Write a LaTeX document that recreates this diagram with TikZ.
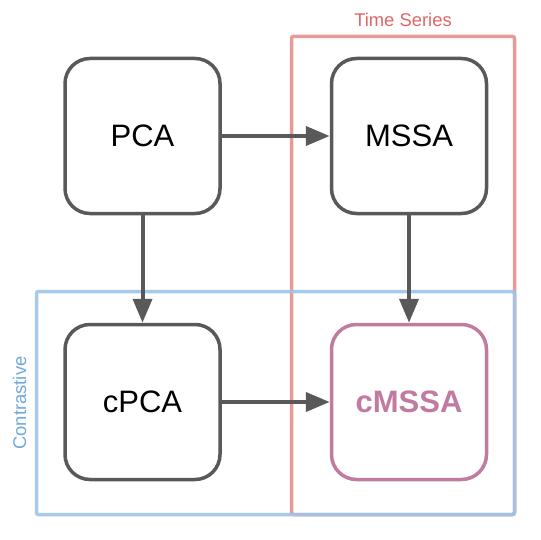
\documentclass[tikz,border=0pt]{standalone}
\usepackage{fontspec}
\setmainfont{Liberation Sans}
\usetikzlibrary{arrows.meta}
\definecolor{boxgray}{HTML}{595959}
\definecolor{tsred}{HTML}{EA9999}
\definecolor{tstext}{HTML}{E06666}
\definecolor{cblue}{HTML}{9FC5E8}
\definecolor{ctext}{HTML}{6FA8DC}
\definecolor{cm}{HTML}{C27BA0}
\tikzset{
  algbox/.style={draw=boxgray, line width=3.5pt, rounded corners=25pt, minimum size=155pt, fill=white, inner sep=0pt, font=\fontsize{31}{31}\selectfont},
  flow/.style={draw=boxgray, line width=4pt, -{Triangle[length=24pt,width=19pt]}},
  group/.style={line width=3.5pt, rounded corners=2pt},
  grouplabel/.style={font=\fontsize{18.4}{18.4}\selectfont, inner sep=0pt}
}
\begin{document}
\begin{tikzpicture}[x=1pt,y=-1pt]
\useasboundingbox (0,0) rectangle (540,540);
\draw[group, draw=tsred] (291.5,36.5) rectangle (514.5,514.5);
\draw[group, draw=cblue, draw opacity=0.92] (36.5,291.5) rectangle (514.5,514.5);
\node[grouplabel, text=tstext, anchor=base] (tslabel) at (403,27) {Time Series};
\node[grouplabel, text=ctext, rotate=90, anchor=base] (clabel) at (26,403) {Contrastive};
\node[algbox] (pca) at (142.5,136) {PCA};
\node[algbox] (mssa) at (409,136) {MSSA};
\node[algbox] (cpca) at (142.5,402) {cPCA};
\node[algbox, draw=cm, text=cm, font=\fontsize{31}{31}\selectfont\bfseries] (cmssa) at (409,402) {cMSSA};
\draw[flow] (pca) -- (mssa);
\draw[flow] (pca) -- (cpca);
\draw[flow] (mssa) -- (cmssa);
\draw[flow] (cpca) -- (cmssa);
\end{tikzpicture}
\end{document}
